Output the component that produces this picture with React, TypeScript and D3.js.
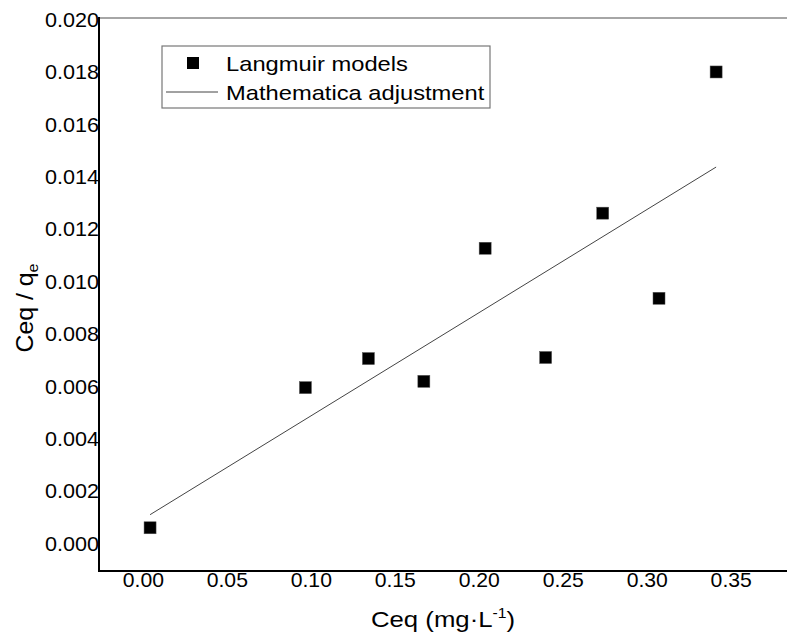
import React from "react";
import * as d3 from "d3";

const xValues = [0.004, 0.0965, 0.134, 0.167, 0.2035, 0.2395, 0.2735, 0.307, 0.341];
const yValues = [0.00061, 0.00596, 0.00707, 0.0062, 0.01128, 0.00711, 0.01262, 0.00937, 0.01801];
const fitX = [0.004, 0.341];
const fitY = [0.00111, 0.01438];
const xTicks = [0, 0.05, 0.1, 0.15, 0.2, 0.25, 0.3, 0.35];
const yTicks = [0, 0.002, 0.004, 0.006, 0.008, 0.01, 0.012, 0.014, 0.016, 0.018, 0.02];

function T(props: { x: number; y: number; sx: number; size: number; anchor?: string; children: React.ReactNode }) {
  return (
    <text
      transform={`translate(${props.x},${props.y}) scale(${props.sx},1)`}
      textAnchor={props.anchor || "start"}
      fontSize={props.size}
      fill="#000"
    >
      {props.children}
    </text>
  );
}

export default function App() {
  const W = 787, H = 641;
  const left = 99, right = 787, top = 18, bottom = 571;
  const x = d3.scaleLinear().domain([-0.0264, 0.3832]).range([left, right]);
  const y = d3.scaleLinear().domain([-0.00104, 0.02007]).range([bottom, top]);
  const line = d3.line<number>().x((d, i) => x(fitX[i])).y((d, i) => y(fitY[i]));
  const font = "Arial, 'Liberation Sans', sans-serif";
  const sq = 12;
  return (
    <svg width={W} height={H} style={{ position: "absolute", left: 0, top: 0, background: "#fff" }} fontFamily={font}>
      <line x1={left} x2={right} y1={top} y2={top} stroke="#888" strokeWidth={1.5} />
      <line x1={left} x2={left} y1={top - 1} y2={bottom + 1} stroke="#000" strokeWidth={2} />
      <line x1={left - 1} x2={right} y1={bottom} y2={bottom} stroke="#000" strokeWidth={2} />
      {yTicks.map((t) => (
        <T key={"y" + t} x={left} y={y(t) + 7} sx={1.08} size={20} anchor="end">
          {d3.format(".3f")(t)}
        </T>
      ))}
      {xTicks.map((t) => (
        <T key={"x" + t} x={x(t)} y={bottom + 16} sx={1.06} size={20} anchor="middle">
          {d3.format(".2f")(t)}
        </T>
      ))}
      <path d={line(fitX) || ""} fill="none" stroke="#444" strokeWidth={1} />
      {xValues.map((v, i) => (
        <rect key={"p" + i} x={x(v) - sq / 2} y={y(yValues[i]) - sq / 2} width={sq} height={sq} fill="#000" stroke="#555" strokeWidth={0.5} />
      ))}
      <rect x={162} y={46} width={328} height={62} fill="#fff" stroke="#777" strokeWidth={1.2} />
      <rect x={187} y={57} width={12} height={12} fill="#000" />
      <line x1={166} x2={218} y1={92} y2={92} stroke="#444" strokeWidth={1} />
      <T x={226} y={71} sx={1.13} size={21}>Langmuir models</T>
      <T x={226} y={100} sx={1.13} size={21}>Mathematica adjustment</T>
      <T x={443} y={627} sx={1.12} size={23} anchor="middle">
        Ceq (mg·L<tspan dy={-9} fontSize={14}>-1</tspan><tspan dy={9}>)</tspan>
      </T>
      <text transform="translate(33,308) rotate(-90) scale(1.08,1)" textAnchor="middle" fontSize={23} fill="#000">
        Ceq / q<tspan dy={5} fontSize={15}>e</tspan>
      </text>
    </svg>
  );
}
